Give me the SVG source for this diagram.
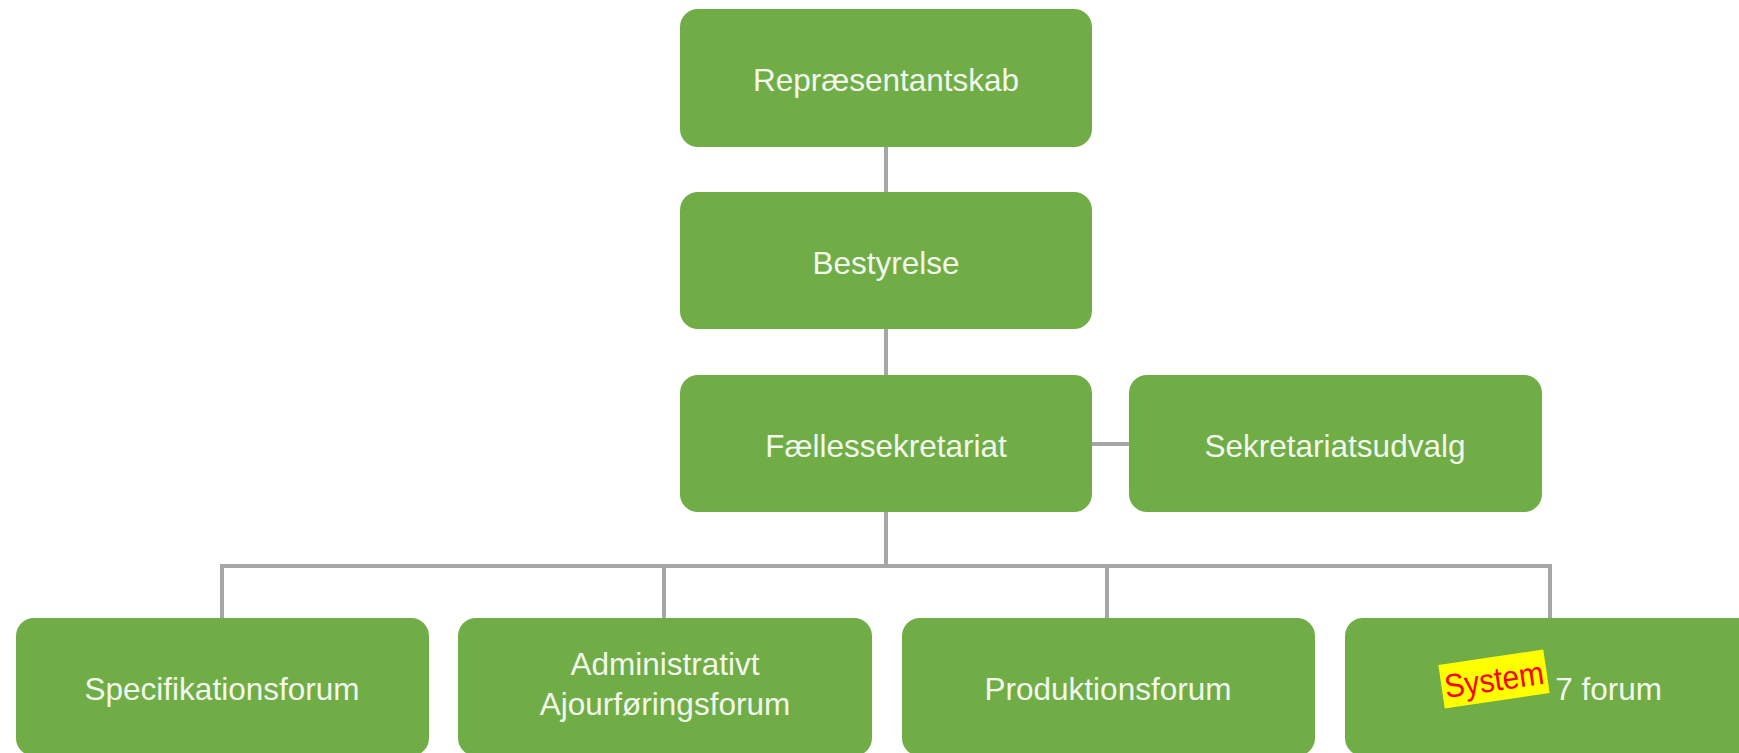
<svg xmlns="http://www.w3.org/2000/svg" width="1739" height="753" viewBox="0 0 1739 753">
<style>
.box{fill:#70ad47}
.lbl{fill:#f3f8ec;font-family:"Liberation Sans",Arial,sans-serif;font-size:31.5px;text-anchor:middle}
.con{stroke:#a6a6a6;stroke-width:4;fill:none}
</style>
<rect width="1739" height="753" fill="#ffffff"/>
<g id="connectors">
<path class="con" d="M886 147V192M886 329V375M1092 444H1129M886 512V566M222 566H1550M222 564V618M664 564V618M1107 564V618M1550 564V618"/>
</g>
<g id="n-repr"><rect class="box" x="680" y="9" width="412" height="138" rx="18"/><text class="lbl" x="886" y="91">Repræsentantskab</text></g>
<g id="n-best"><rect class="box" x="680" y="192" width="412" height="137" rx="18"/><text class="lbl" x="886" y="274">Bestyrelse</text></g>
<g id="n-faelles"><rect class="box" x="680" y="375" width="412" height="137" rx="18"/><text class="lbl" x="886" y="457">Fællessekretariat</text></g>
<g id="n-sekr"><rect class="box" x="1129" y="375" width="413" height="137" rx="18"/><text class="lbl" x="1335" y="457">Sekretariatsudvalg</text></g>
<g id="n-spec"><rect class="box" x="16" y="618" width="413" height="138" rx="18"/><text class="lbl" x="222" y="700">Specifikationsforum</text></g>
<g id="n-adm"><rect class="box" x="458" y="618" width="414" height="138" rx="18"/><text class="lbl" x="665" y="675">Administrativt</text><text class="lbl" x="665" y="715">Ajourføringsforum</text></g>
<g id="n-prod"><rect class="box" x="902" y="618" width="413" height="138" rx="18"/><text class="lbl" x="1108" y="700">Produktionsforum</text></g>
<g id="n-sys"><rect class="box" x="1345" y="618" width="413" height="138" rx="18"/><text class="lbl" x="1662" y="700" style="text-anchor:end">7 forum</text>
<g transform="translate(1494 679) rotate(-8.3)"><rect x="-53" y="-22" width="106" height="44" fill="#ffff00"/><text x="0" y="12" fill="#ff0000" font-family="Liberation Sans,Arial,sans-serif" font-size="33" text-anchor="middle" textLength="100" lengthAdjust="spacingAndGlyphs">System</text></g></g>
</svg>
